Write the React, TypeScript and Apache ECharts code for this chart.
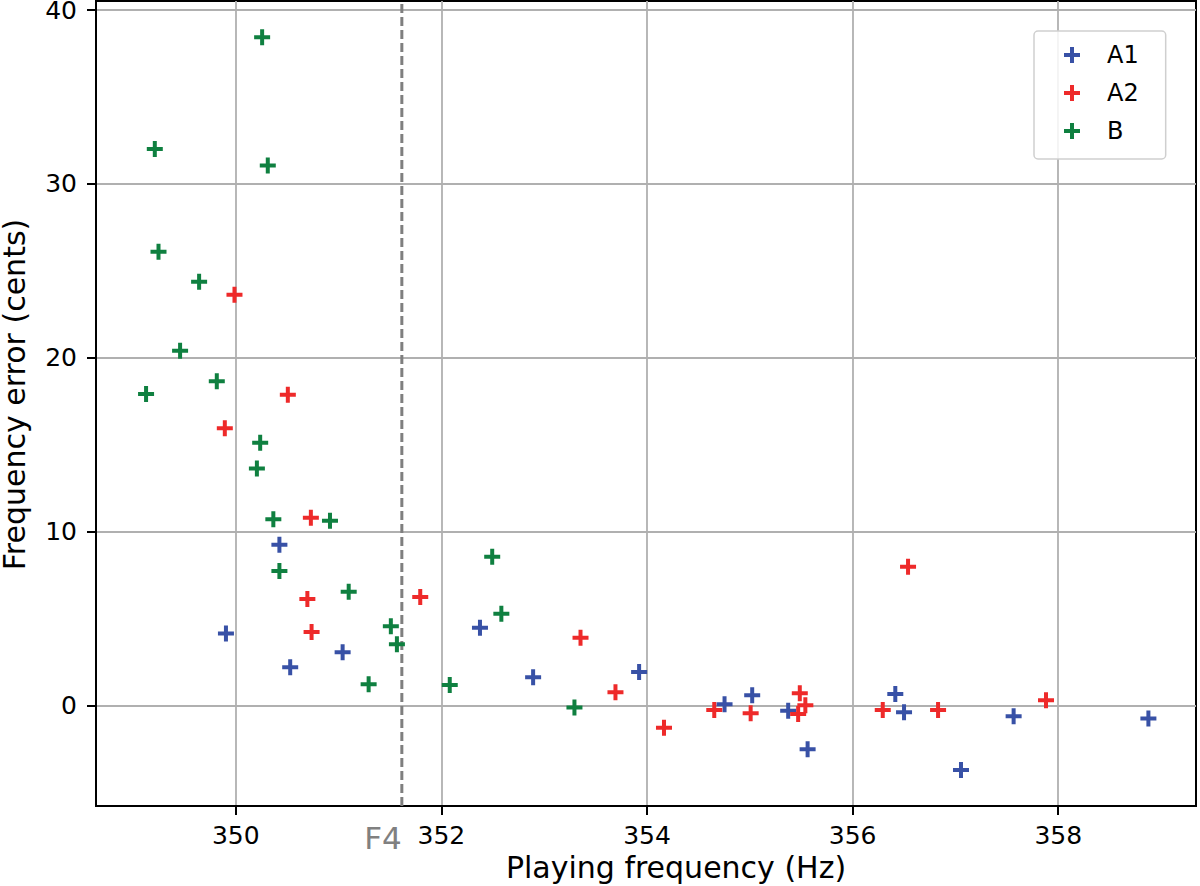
import React, { useEffect, useRef } from "react";
import * as echarts from "echarts";

const X_MIN = 348.64;
const X_MAX = 359.34;
const Y_MIN = -5.79;
const Y_MAX = 40.52;
const X_TICKS = [350, 352, 354, 356, 358];
const Y_TICKS = [0, 10, 20, 30, 40];
const F4_FREQ = 351.615;
const F4_LABEL = "F4";
const SERIES_NAMES = ["A1", "A2", "B"];
const COLORS = ["#3851a6", "#ee2a2a", "#0f8040"];

const A1_X = [350.424, 349.904, 351.039, 350.529, 352.375, 352.892, 353.923, 354.754, 355.023, 355.373, 355.562, 356.415, 356.5, 357.054, 357.566, 358.877];
const A1_Y = [9.24, 4.14, 3.05, 2.19, 4.47, 1.61, 1.92, 0.07, 0.58, -0.31, -2.53, 0.65, -0.39, -3.72, -0.62, -0.75];

const A2_X = [349.987, 350.506, 349.893, 350.73, 350.696, 350.737, 351.794, 353.353, 353.693, 354.165, 354.654, 355.008, 355.486, 355.47, 355.54, 356.293, 356.539, 356.831, 357.881];
const A2_Y = [23.62, 17.87, 15.94, 10.79, 6.12, 4.22, 6.23, 3.89, 0.75, -1.29, -0.27, -0.46, 0.69, -0.5, 0.0, -0.27, 7.97, -0.27, 0.3];

const B_X = [350.256, 349.212, 350.311, 349.248, 349.643, 349.458, 349.815, 349.127, 350.237, 350.205, 350.365, 350.916, 350.424, 351.098, 352.494, 352.583, 351.508, 351.567, 351.292, 352.081, 353.294];
const B_Y = [38.44, 32.01, 31.05, 26.1, 24.37, 20.4, 18.64, 17.91, 15.11, 13.63, 10.7, 10.62, 7.73, 6.54, 8.55, 5.27, 4.55, 3.51, 1.21, 1.17, -0.12];

const PLUS = "path://M6,0H10V6H16V10H10V16H6V10H0V6H6Z";
const FONT = "DejaVu Sans";

const zip = (xs: number[], ys: number[]) => xs.map((x, i) => [x, ys[i]]);

export default function App() {
  const ref = useRef<HTMLDivElement>(null);
  useEffect(() => {
    if (!ref.current) return;
    const chart = echarts.init(ref.current, null, { renderer: "svg" });
    const seriesData = [zip(A1_X, A1_Y), zip(A2_X, A2_Y), zip(B_X, B_Y)];
    const option: any = {
      animation: false,
      backgroundColor: "#ffffff",
      textStyle: { fontFamily: FONT },
      grid: {
        left: 96,
        right: 4,
        top: 1,
        bottom: 80,
        outerBoundsMode: "none",
        containLabel: false,
        show: true,
        borderColor: "#000000",
        borderWidth: 2,
        backgroundColor: "transparent",
      },
      legend: {
        orient: "vertical",
        left: 1034,
        top: 31,
        align: "left",
        itemWidth: 16,
        itemHeight: 16,
        itemGap: 14,
        padding: [12, 27, 16, 30],
        borderColor: "#cfcfcf",
        borderWidth: 1.5,
        borderRadius: 4,
        backgroundColor: "rgba(255,255,255,0.85)",
        textStyle: { fontSize: 24, color: "#000000", fontFamily: FONT, padding: [0, 0, 0, 22] },
        data: SERIES_NAMES.map((n) => ({ name: n, icon: PLUS })),
      },
      xAxis: [
        {
          type: "value",
          min: X_MIN,
          max: X_MAX,
          name: "Playing frequency (Hz)",
          nameLocation: "middle",
          nameGap: 44,
          nameTextStyle: { fontSize: 30, color: "#000", fontFamily: FONT, padding: [0, 0, 0, 60] },
          axisLine: { show: true, onZero: false, lineStyle: { color: "#000", width: 2 } },
          axisTick: { show: true, length: 9, customValues: X_TICKS, lineStyle: { color: "#000", width: 2 } },
          axisLabel: { customValues: X_TICKS, fontSize: 25, color: "#000", margin: 17, fontFamily: FONT },
          splitLine: { show: true, lineStyle: { color: "#b0b0b0", width: 1.8 } },
        },
        {
          type: "value",
          min: X_MIN,
          max: X_MAX,
          position: "bottom",
          axisLine: { show: false },
          axisTick: { show: false },
          splitLine: { show: false },
          axisLabel: {
            customValues: [F4_FREQ],
            formatter: () => F4_LABEL,
            fontSize: 31,
            color: "#808080",
            margin: 16,
            align: "right",
            fontFamily: FONT,
          },
        },
      ],
      yAxis: {
        type: "value",
        min: Y_MIN,
        max: Y_MAX,
        name: "Frequency error (cents)",
        nameLocation: "middle",
        nameGap: 67,
        nameTextStyle: { fontSize: 30, color: "#000", fontFamily: FONT, padding: [0, 0, 0, 18] },
        axisLine: { show: true, onZero: false, lineStyle: { color: "#000", width: 2 } },
        axisTick: { show: true, length: 9, customValues: Y_TICKS, lineStyle: { color: "#000", width: 2 } },
        axisLabel: { customValues: Y_TICKS, fontSize: 25, color: "#000", margin: 19, fontFamily: FONT },
        splitLine: { show: true, lineStyle: { color: "#b0b0b0", width: 1.8 } },
      },
      series: [
        {
          name: "F4 line",
          type: "line",
          xAxisIndex: 0,
          data: [
            [F4_FREQ, Y_MIN],
            [F4_FREQ, Y_MAX],
          ],
          symbol: "none",
          z: 1,
          silent: true,
          lineStyle: { color: "#7f7f7f", width: 3, type: [9, 4] },
        },
        ...SERIES_NAMES.map((n, i) => ({
          name: n,
          type: "scatter",
          xAxisIndex: 0,
          data: seriesData[i],
          symbol: PLUS,
          symbolSize: 16,
          z: 3 + i,
          itemStyle: { color: COLORS[i], opacity: 1 },
        })),
      ],
    };
    chart.setOption(option);
    return () => chart.dispose();
  }, []);
  return (
    <div
      ref={ref}
      style={{ position: "absolute", left: 0, top: 0, width: 1200, height: 886 }}
    />
  );
}
